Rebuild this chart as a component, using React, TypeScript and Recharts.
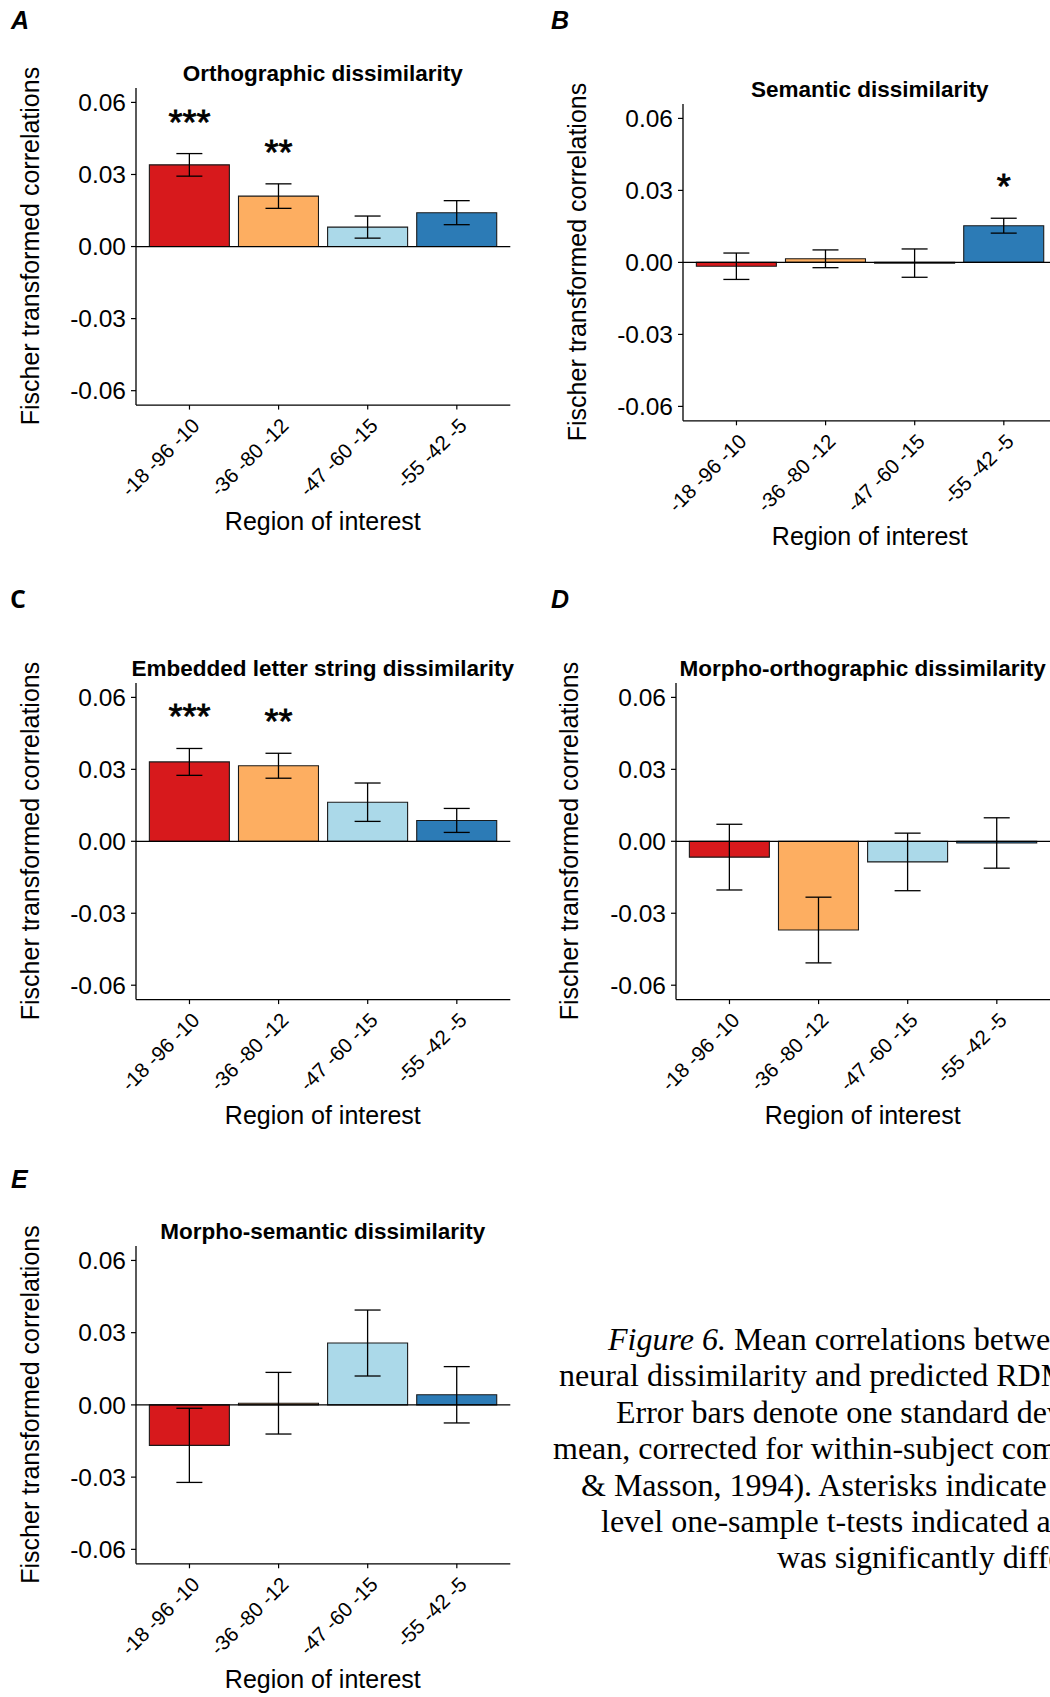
import React from "react";
import {
  ComposedChart,
  Bar,
  Cell,
  ErrorBar,
  XAxis,
  YAxis,
  ReferenceLine,
  Scatter,
} from "recharts";

const SANS = "'Liberation Sans', Arial, sans-serif";
const SERIF = "'Liberation Serif', 'Times New Roman', serif";

const rois = ["-18 -96 -10", "-36 -80 -12", "-47 -60 -15", "-55 -42 -5"];
const roiColors = ["#D7191C", "#FDAE61", "#ABD9E9", "#2C7BB6"];
const yTicks = [-0.06, -0.03, 0, 0.03, 0.06];
const yDomain: [number, number] = [-0.066, 0.066];

// A: orthographic
const orthoMeans = [0.034, 0.021, 0.0081, 0.0141];
const orthoErrs = [0.0047, 0.0051, 0.0046, 0.005];
const orthoSig = ["***", "**", "", ""];

// B: semantic
const semMeans = [-0.0016, 0.0015, -0.0003, 0.0153];
const semErrs = [0.0055, 0.0037, 0.0059, 0.0031];
const semSig = ["", "", "", "*"];

// C: embedded letter string
const embMeans = [0.0331, 0.0315, 0.0163, 0.0087];
const embErrs = [0.0056, 0.0052, 0.008, 0.005];
const embSig = ["***", "**", "", ""];

// D: morpho-orthographic
const morphOrthMeans = [-0.0066, -0.037, -0.0086, -0.0007];
const morphOrthErrs = [0.0137, 0.0137, 0.012, 0.0105];

// E: morpho-semantic
const morphSemMeans = [-0.0168, 0.0007, 0.0257, 0.0042];
const morphSemErrs = [0.0154, 0.0128, 0.0137, 0.0117];

const noSig = ["", "", "", ""];

const captionItalic = "Figure 6.";
const captionLines = [
  " Mean correlations between",
  "neural dissimilarity and predicted RDMs.",
  "Error bars denote one standard deviation",
  "mean, corrected for within-subject comparisons",
  "& Masson, 1994). Asterisks indicate where",
  "level one-sample t-tests indicated a",
  "was significantly different",
];
const captionStarts = [608, 559, 616, 553, 581, 601, 777];

type Panel = {
  letter: string;
  letterFont: string;
  letterItalic: boolean;
  letterX: number;
  letterY: number;
  title: string;
  means: number[];
  errs: number[];
  sig: string[];
  left: number;
  top: number;
  width: number;
  height: number;
  yLabelGap: number;
};

const panels: Panel[] = [
  {
    letter: "A", letterFont: SANS, letterItalic: true, letterX: 11, letterY: 28.5,
    title: "Orthographic dissimilarity",
    means: orthoMeans, errs: orthoErrs, sig: orthoSig,
    left: 135.7, top: 87.5, width: 374.3, height: 317.1, yLabelGap: 97,
  },
  {
    letter: "B", letterFont: SANS, letterItalic: true, letterX: 551, letterY: 28.5,
    title: "Semantic dissimilarity",
    means: semMeans, errs: semErrs, sig: semSig,
    left: 682.7, top: 103.6, width: 374.3, height: 316.8, yLabelGap: 97,
  },
  {
    letter: "C", letterFont: "'Open Sans', sans-serif", letterItalic: false, letterX: 10, letterY: 608,
    title: "Embedded letter string dissimilarity",
    means: embMeans, errs: embErrs, sig: embSig,
    left: 135.7, top: 682.7, width: 374.3, height: 316.6, yLabelGap: 97,
  },
  {
    letter: "D", letterFont: SANS, letterItalic: true, letterX: 551, letterY: 608,
    title: "Morpho-orthographic dissimilarity",
    means: morphOrthMeans, errs: morphOrthErrs, sig: noSig,
    left: 675.5, top: 682.7, width: 374.3, height: 316.6, yLabelGap: 97.5,
  },
  {
    letter: "E", letterFont: SANS, letterItalic: true, letterX: 11, letterY: 1187.5,
    title: "Morpho-semantic dissimilarity",
    means: morphSemMeans, errs: morphSemErrs, sig: noSig,
    left: 135.7, top: 1245.6, width: 374.3, height: 317.8, yLabelGap: 97,
  },
];

// space around the plotting area inside each chart svg
const Y_AXIS_W = 90;
const MARGIN_TOP = 20;
const MARGIN_RIGHT = 20;
const X_AXIS_H = 110;

function RoiTick(props: any) {
  const { x, y, payload } = props;
  const tx = x + 1;
  const ty = y + 5;
  return (
    <text
      x={tx}
      y={ty}
      dy="0.71em"
      textAnchor="end"
      transform={`rotate(-45 ${tx} ${ty})`}
      fontSize={20.5}
      fontFamily={SANS}
      fill="#000"
    >
      {payload.value}
    </text>
  );
}

// significance stars sit a fixed distance above the top of each error bar
function SigMark(props: any) {
  const { cx, cy, payload } = props;
  if (!payload || !payload.sig) return <g />;
  return (
    <text
      x={cx}
      y={cy - 20}
      textAnchor="middle"
      fontSize={36}
      fontFamily={SANS}
      fill="#000"
      stroke="#000"
      strokeWidth={0.8}
    >
      {payload.sig}
    </text>
  );
}

function PanelChart({ p }: { p: Panel }) {
  const data = rois.map((roi, i) => ({
    roi,
    mean: p.means[i],
    err: p.errs[i],
    sig: p.sig[i],
    sigY: p.means[i] + p.errs[i],
  }));
  const pad = p.width / 42;
  return (
    <div
      style={{
        position: "absolute",
        left: p.left - Y_AXIS_W,
        top: p.top - MARGIN_TOP,
      }}
    >
      <ComposedChart
        width={Y_AXIS_W + p.width + MARGIN_RIGHT}
        height={MARGIN_TOP + p.height + X_AXIS_H}
        data={data}
        margin={{ top: MARGIN_TOP, right: MARGIN_RIGHT, bottom: 0, left: 0 }}
        barCategoryGap="5%"
      >
        <XAxis
          dataKey="roi"
          type="category"
          interval={0}
          height={X_AXIS_H}
          padding={{ left: pad, right: pad }}
          axisLine={{ stroke: "#000", strokeWidth: 1.3 }}
          tickLine={{ stroke: "#000", strokeWidth: 1.2 }}
          tickSize={4.5}
          tickMargin={2}
          tick={<RoiTick />}
        />
        <YAxis
          type="number"
          domain={yDomain}
          ticks={yTicks}
          allowDataOverflow
          width={Y_AXIS_W}
          tickFormatter={(v: number) => v.toFixed(2)}
          axisLine={{ stroke: "#000", strokeWidth: 1.3 }}
          tickLine={{ stroke: "#000", strokeWidth: 1.2 }}
          tickSize={5}
          tickMargin={5}
          tick={{ fontSize: 24.5, fill: "#000", fontFamily: SANS }}
        />
        <Bar dataKey="mean" stroke="#1a1a1a" strokeWidth={1.1} isAnimationActive={false}>
          {data.map((d, i) => (
            <Cell key={d.roi} fill={roiColors[i]} />
          ))}
          <ErrorBar
            dataKey="err"
            direction="y"
            width={13}
            stroke="#000"
            strokeWidth={1.3}
            isAnimationActive={false}
          />
        </Bar>
        <ReferenceLine y={0} stroke="#000" strokeWidth={1.3} />
        <Scatter dataKey="sigY" shape={<SigMark />} isAnimationActive={false} />
      </ComposedChart>
    </div>
  );
}

function PanelText({ p }: { p: Panel }) {
  const cx = p.left + p.width / 2;
  const cy = p.top + p.height / 2;
  const ylx = p.left - p.yLabelGap;
  return (
    <g fill="#000">
      <text
        x={p.letterX}
        y={p.letterY}
        fontFamily={p.letterFont}
        fontWeight="bold"
        fontStyle={p.letterItalic ? "italic" : "normal"}
        fontSize={25}
      >
        {p.letter}
      </text>
      <text x={cx} y={p.top - 6.5} textAnchor="middle" fontFamily={SANS} fontWeight="bold" fontSize={22.5}>
        {p.title}
      </text>
      <text
        x={ylx}
        y={cy}
        textAnchor="middle"
        transform={`rotate(-90 ${ylx} ${cy})`}
        fontFamily={SANS}
        fontSize={25}
      >
        Fischer transformed correlations
      </text>
      <text x={cx} y={p.top + p.height + 125} textAnchor="middle" fontFamily={SANS} fontSize={25}>
        Region of interest
      </text>
    </g>
  );
}

export default function App() {
  return (
    <div
      style={{
        position: "absolute",
        left: 0,
        top: 0,
        width: 1050,
        height: 1697,
        overflow: "hidden",
        background: "#fff",
      }}
    >
      {panels.map((p) => (
        <PanelChart key={p.letter} p={p} />
      ))}
      <svg
        width={1050}
        height={1697}
        style={{ position: "absolute", left: 0, top: 0, pointerEvents: "none" }}
      >
        {panels.map((p) => (
          <PanelText key={p.letter} p={p} />
        ))}
        <g fontFamily={SERIF} fontSize={32} fill="#000">
          {captionLines.map((line, i) => (
            <text key={i} x={captionStarts[i]} y={1350 + i * 36.4}>
              {i === 0 && <tspan fontStyle="italic">{captionItalic}</tspan>}
              {line}
            </text>
          ))}
        </g>
      </svg>
    </div>
  );
}
